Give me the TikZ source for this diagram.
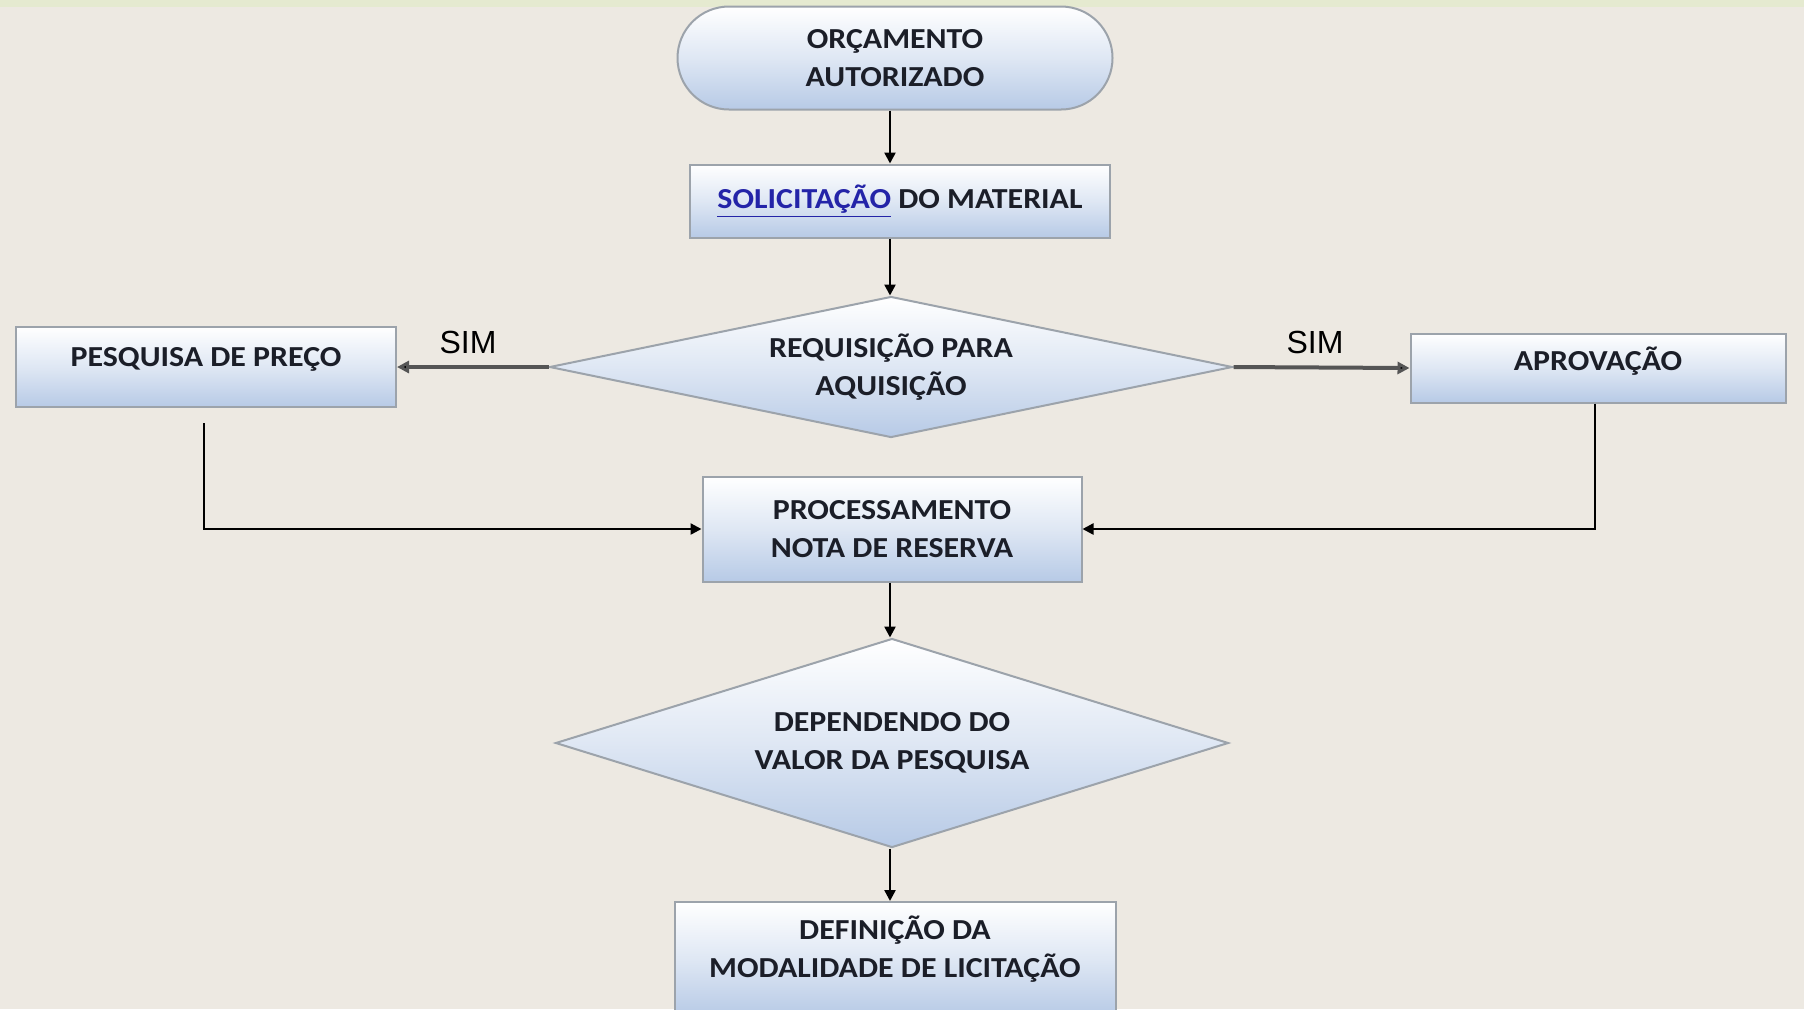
\documentclass[tikz,border=0pt]{standalone}
\usepackage{fontspec}
\usetikzlibrary{shapes.geometric,shapes.misc,arrows.meta}
\newfontfamily\boxfnt{Carlito}[FakeStretch=1.1]
\newfontfamily\simfnt{Liberation Sans}
\definecolor{bgc}{HTML}{EDE9E2}
\definecolor{bandc}{HTML}{E5EAD0}
\definecolor{boxbot}{HTML}{B7CAE6}
\definecolor{boxedge}{HTML}{9CA3AB}
\definecolor{txtc}{HTML}{1B1E28}
\definecolor{linkc}{HTML}{2424A8}
\definecolor{sidearr}{HTML}{555555}
\tikzset{
  fillbox/.style={draw=boxedge, line width=1pt, top color=white, bottom color=boxbot,
    middle color=white!55!boxbot, inner sep=0pt, align=center, text=txtc,
    font=\boxfnt\bfseries\fontsize{14.5}{19}\selectfont},
  rectbox/.style={fillbox, rectangle},
  termbox/.style={fillbox, rounded rectangle},
  decbox/.style={fillbox, diamond},
  conn/.style={line width=1.2pt, draw=black, -{Triangle[length=5.5pt,width=5.5pt]}},
  sideconn/.style={line width=2pt, draw=sidearr, -{Triangle[length=6pt,width=6pt,fill=black]}},
  simlbl/.style={font=\simfnt\fontsize{16}{18}\selectfont, text=black, inner sep=0pt}
}
\begin{document}
\begin{tikzpicture}[x=0.5pt,y=-0.5pt]
\useasboundingbox (0,0) rectangle (1804,1009);
\fill[bgc] (0,0) rectangle (1804,1009);
\fill[bandc] (0,0) rectangle (1804,7);
\begin{scope}
\clip (0,0) rectangle (1804,1009);
\node[termbox, minimum width=217.5pt, minimum height=51.5pt] (orc) at (895,58) {OR\c{C}AMENTO\\AUTORIZADO};
\node[rectbox, minimum width=210pt, minimum height=36.5pt] (sol) at (900,201) {\textcolor{linkc}{\underline{SOLICITA\c{C}\~AO}} DO MATERIAL};
\node[decbox, aspect=4.84, minimum width=341.5pt, minimum height=70.5pt] (req) at (891,367) {REQUISI\c{C}\~AO PARA\\AQUISI\c{C}\~AO};
\node[rectbox, minimum width=190pt, minimum height=40pt, text depth=10pt] (pesq) at (206,367) {PESQUISA DE PRE\c{C}O};
\node[rectbox, minimum width=187.5pt, minimum height=34.5pt, text depth=9pt] (aprov) at (1598,368) {APROVA\c{C}\~AO};
\node[rectbox, minimum width=189.5pt, minimum height=52.5pt] (proc) at (892,529) {PROCESSAMENTO\\NOTA DE RESERVA};
\node[decbox, aspect=3.22, minimum width=336.5pt, minimum height=104.5pt] (dep) at (892,743) {DEPENDENDO DO\\VALOR DA PESQUISA};
\node[rectbox, minimum width=220.5pt, minimum height=57pt, anchor=north] (def) at (895,901) {};
\node[text=txtc, align=center, font=\boxfnt\bfseries\fontsize{14.5}{19}\selectfont] (deftxt) at (895,949) {DEFINI\c{C}\~AO DA\\MODALIDADE DE LICITA\c{C}\~AO};
\end{scope}
\node[simlbl] (sim1) at (468,342) {SIM};
\node[simlbl] (sim2) at (1315,342) {SIM};
\draw[conn] (orc.south -| 890,0) -- (sol.north -| 890,0);
\draw[conn] (sol.south -| 890,0) -- (req.north -| 890,0);
\draw[sideconn] (req.west) -- (pesq.east);
\draw[sideconn] (req.east) -- (aprov.west);
\draw[conn, shorten <=7.5pt] (pesq.south -| 204,0) |- (proc.west);
\draw[conn] (aprov.south -| 1595,0) |- (proc.east);
\draw[conn] (proc.south -| 890,0) -- (dep.north -| 890,0);
\draw[conn] (dep.south -| 890,0) -- (def.north -| 890,0);
\end{tikzpicture}
\end{document}
